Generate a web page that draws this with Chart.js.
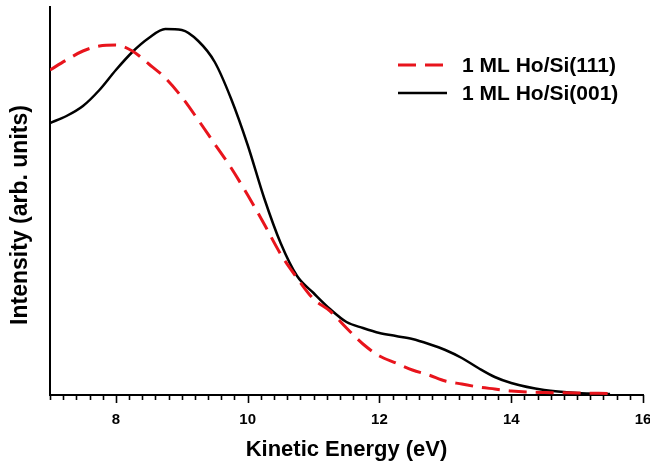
<!DOCTYPE html>
<html>
<head>
<meta charset="utf-8">
<script src="https://cdn.jsdelivr.net/npm/chart.js@4/dist/chart.umd.min.js"></script>
<style>
  html, body { margin: 0; padding: 0; background: #fff; }
  #wrap { width: 650px; height: 466px; }
</style>
</head>
<body>
<div id="wrap"><canvas id="c" width="650" height="466"></canvas></div>
<script>
// Kinetic energy (eV)
const energies = [7.0, 7.25, 7.5, 7.75, 8.0, 8.25, 8.5, 8.75, 9.0, 9.25, 9.5, 9.75, 10.0, 10.25, 10.5, 10.75, 11.0, 11.25, 11.5, 11.75, 12.0, 12.25, 12.5, 12.75, 13.0, 13.25, 13.5, 13.75, 14.0, 14.5, 15.0, 15.5];
// Intensity (arb. units)
const si111 = [325, 335, 344, 349, 350, 344, 331, 317, 298, 275, 251, 227, 200, 171, 141, 117, 96, 84, 67, 51, 39, 32, 25, 20, 14, 11, 8, 6, 4, 2.5, 2, 1.5];
const si001 = [272, 279, 289, 305, 325, 343, 357, 366, 365, 354, 333, 296, 250, 197, 152, 119, 102, 86, 73, 67, 62, 59, 56, 51, 45, 37, 27, 18, 12, 5, 2, 1];
const xTickLabels = [8, 10, 12, 14, 16];
const seriesNames = ['1 ML Ho/Si(111)', '1 ML Ho/Si(001)'];
const xTitle = 'Kinetic Energy (eV)';
const yTitle = 'Intensity (arb. units)';

const FONT = '"Liberation Sans", Arial, Helvetica, sans-serif';

const toPts = (ys) => energies.map((x, i) => ({ x: x, y: ys[i] }));

const extras = {
  id: 'extras',
  afterDraw(chart) {
    const ctx = chart.ctx;
    const xs = chart.scales.x;
    const ca = chart.chartArea;
    ctx.save();
    // minor/major tick marks on the x axis
    ctx.strokeStyle = '#000';
    ctx.lineWidth = 1.6;
    for (let i = 0; i <= 45; i++) {
      const v = 7 + i * 0.2;
      const px = Math.round(xs.getPixelForValue(v)) + 0.5;
      const isMajor = Math.abs(v - Math.round(v)) < 1e-6 && Math.round(v) % 2 === 0;
      const len = isMajor ? 8 : 5;
      ctx.beginPath();
      ctx.moveTo(px, ca.bottom);
      ctx.lineTo(px, ca.bottom + len);
      ctx.stroke();
    }
    // y axis title
    ctx.fillStyle = '#000';
    ctx.font = 'bold 23px ' + FONT;
    ctx.textAlign = 'center';
    ctx.textBaseline = 'middle';
    ctx.translate(21, 215);
    ctx.rotate(-Math.PI / 2);
    ctx.fillText(yTitle, 0, 0);
    ctx.restore();

    // legend
    ctx.save();
    const ds = chart.data.datasets;
    const rows = [65, 93];
    ds.forEach((d, i) => {
      const y = rows[i];
      ctx.strokeStyle = d.borderColor;
      ctx.lineWidth = d.borderWidth;
      ctx.setLineDash(d.borderDash || []);
      ctx.beginPath();
      ctx.moveTo(398, y);
      ctx.lineTo(447, y);
      ctx.stroke();
      ctx.setLineDash([]);
      ctx.fillStyle = '#000';
      ctx.font = 'bold 21px ' + FONT;
      ctx.textAlign = 'left';
      ctx.textBaseline = 'middle';
      ctx.fillText(d.label, 462, y + 1);
    });
    ctx.restore();
  }
};

new Chart(document.getElementById('c'), {
  type: 'line',
  data: {
    datasets: [
      {
        label: seriesNames[0],
        data: toPts(si111),
        borderColor: '#e8141c',
        borderWidth: 3,
        borderDash: [18, 9],
        pointRadius: 0,
        fill: false,
        cubicInterpolationMode: 'monotone'
      },
      {
        label: seriesNames[1],
        data: toPts(si001),
        borderColor: '#000000',
        borderWidth: 2.5,
        pointRadius: 0,
        fill: false,
        cubicInterpolationMode: 'monotone'
      }
    ]
  },
  options: {
    responsive: false,
    animation: false,
    devicePixelRatio: 1,
    layout: { padding: { top: 7, right: 7, left: 0, bottom: 0 } },
    plugins: { legend: { display: false }, tooltip: { enabled: false } },
    scales: {
      x: {
        type: 'linear',
        min: 7,
        max: 16,
        afterBuildTicks: (s) => { s.ticks = xTickLabels.map(v => ({ value: v })); },
        afterFit: (s) => { s.height = 71; s.paddingRight = 0; s.paddingLeft = 0; },
        grid: { display: false, drawTicks: false },
        border: { display: true, color: '#000', width: 2 },
        ticks: {
          color: '#000',
          font: { family: FONT, size: 15, weight: 'bold' },
          padding: 16,
          maxRotation: 0,
          autoSkip: false
        },
        title: {
          display: true,
          text: xTitle,
          color: '#000',
          font: { family: FONT, size: 22, weight: 'bold' },
          padding: { top: 0, bottom: 3 }
        }
      },
      y: {
        type: 'linear',
        min: 0,
        max: 388,
        afterFit: (s) => { s.width = 50; },
        grid: { display: false, drawTicks: false },
        border: { display: true, color: '#000', width: 2 },
        ticks: { display: false }
      }
    }
  },
  plugins: [extras]
});
</script>
</body>
</html>
